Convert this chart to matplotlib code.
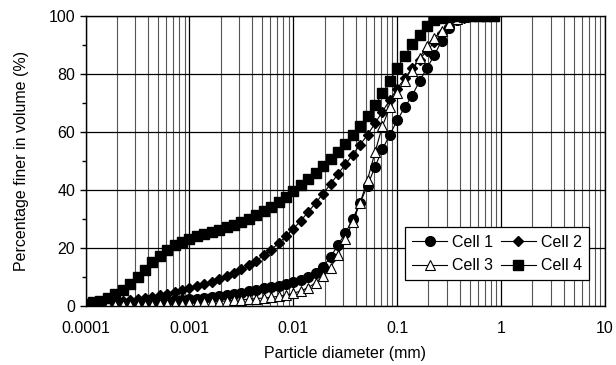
import matplotlib
matplotlib.use("Agg")
import matplotlib.pyplot as plt
from matplotlib.ticker import FixedLocator, FixedFormatter, LogLocator, NullFormatter

plt.rcParams['font.family'] = ['Liberation Sans', 'DejaVu Sans']

# particle size classes (mm)
diameter = [0.0001, 0.000118, 0.000139, 0.000164, 0.000193, 0.000228, 0.000268,
            0.000316, 0.000373, 0.000439, 0.000518, 0.000611, 0.00072, 0.000848,
            0.001, 0.00118, 0.00139, 0.00164, 0.00193, 0.00228, 0.00268,
            0.00316, 0.00373, 0.00439, 0.00518, 0.00611, 0.0072, 0.00848,
            0.01, 0.0118, 0.0139, 0.0164, 0.0193, 0.0228, 0.0268,
            0.0316, 0.0373, 0.0439, 0.0518, 0.0611, 0.072, 0.0848,
            0.1, 0.118, 0.139, 0.164, 0.193, 0.228, 0.268,
            0.316, 0.373, 0.439, 0.518, 0.611, 0.72, 0.848]

# cumulative percentage finer (%)
cell1 = [0.3, 0.4, 0.5, 0.6, 0.7, 0.8, 0.9, 1.0, 1.1, 1.3, 1.5, 1.7, 1.9, 2.1,
         2.3, 2.5, 2.8, 3.1, 3.4, 3.8, 4.2, 4.6, 5.0, 5.5, 6.0, 6.5, 7.0, 7.6,
         8.2, 9.0, 10.0, 11.5, 13.5, 16.8, 21.0, 25.0, 30.0, 35.5, 41.5, 48.0, 54.0, 59.0,
         64.0, 68.5, 72.5, 77.5, 82.0, 86.5, 91.5, 95.8, 98.5, 99.7, 100, 100, 100, 100]
cell2 = [0.5, 0.7, 0.9, 1.1, 1.4, 1.7, 2.0, 2.4, 2.8, 3.2, 3.7, 4.2, 4.8, 5.4,
         6.1, 6.8, 7.6, 8.4, 9.3, 10.3, 11.4, 12.6, 14.0, 15.6, 17.4, 19.4, 21.6, 24.0,
         26.6, 29.4, 32.4, 35.5, 38.7, 42.0, 45.4, 48.8, 52.2, 55.6, 59.0, 63.0, 67.0, 71.0,
         75.0, 78.5, 82.0, 85.0, 88.0, 91.0, 94.0, 96.6, 98.5, 99.5, 99.9, 100, 100, 100]
cell3 = [0.1, 0.1, 0.15, 0.2, 0.2, 0.25, 0.3, 0.35, 0.4, 0.45, 0.5, 0.6, 0.7, 0.8,
         0.9, 1.0, 1.2, 1.3, 1.5, 1.7, 1.9, 2.1, 2.3, 2.5, 2.7, 3.0, 3.3, 3.7,
         4.3, 5.2, 6.3, 8.0, 10.2, 13.2, 17.5, 23.0, 29.0, 35.5, 43.5, 53.0, 62.0, 68.5,
         73.5, 77.5, 81.0, 85.5, 89.5, 92.5, 95.0, 97.3, 99.0, 99.8, 100, 100, 100, 100]
cell4 = [0.8, 1.2, 1.8, 2.8, 4.0, 5.6, 7.6, 10.0, 12.5, 15.0, 17.3, 19.3, 20.9, 22.1,
         23.1, 24.0, 24.8, 25.6, 26.3, 27.1, 28.0, 29.0, 30.1, 31.3, 32.7, 34.2, 35.9, 37.7,
         39.6, 41.6, 43.8, 46.0, 48.3, 50.7, 53.2, 55.9, 58.8, 61.9, 65.4, 69.2, 73.3, 77.6,
         82.0, 86.3, 90.2, 93.5, 96.6, 98.5, 99.5, 99.8, 100, 100, 100, 100, 100, 100]

xtick_vals = [0.0001, 0.001, 0.01, 0.1, 1, 10]
xtick_labels = ['0.0001', '0.001', '0.01', '0.1', '1', '10']

fig = plt.figure(figsize=(6.16, 3.65), dpi=100)
ax = fig.add_axes([0.139, 0.162, 0.843, 0.794])

common = dict(color='black', linewidth=0.8, linestyle='-')
h1, = ax.plot(diameter, cell1, marker='o', markersize=7, markerfacecolor='black',
              markeredgecolor='black', label='Cell 1', **common)
h2, = ax.plot(diameter, cell2, marker='D', markersize=5.5, markerfacecolor='black',
              markeredgecolor='black', label='Cell 2', **common)
h3, = ax.plot(diameter, cell3, marker='^', markersize=7.5, markerfacecolor='white',
              markeredgecolor='black', markeredgewidth=0.8, label='Cell 3', **common)
h4, = ax.plot(diameter, cell4, marker='s', markersize=6.5, markerfacecolor='black',
              markeredgecolor='black', label='Cell 4', **common)

ax.set_xscale('log')
ax.set_xlim(0.0001, 10)
ax.set_ylim(0, 100)

ax.xaxis.set_major_locator(FixedLocator(xtick_vals))
ax.xaxis.set_major_formatter(FixedFormatter(xtick_labels))
ax.xaxis.set_minor_locator(LogLocator(base=10, subs=range(2, 10), numticks=20))
ax.xaxis.set_minor_formatter(NullFormatter())
ax.set_yticks([0, 20, 40, 60, 80, 100])
ax.set_yticks([10, 30, 50, 70, 90], minor=True)

ax.grid(True, which='major', axis='both', color='black', linewidth=0.9)
ax.grid(True, which='minor', axis='x', color='#555555', linewidth=0.8)
ax.set_axisbelow(True)

ax.tick_params(axis='x', which='both', length=0, labelsize=11.5, pad=11)
ax.tick_params(axis='y', which='major', direction='out', length=4, width=1, labelsize=11.5)
ax.tick_params(axis='y', which='minor', direction='out', length=3, width=1)
for s in ax.spines.values():
    s.set_color('black')
    s.set_linewidth(1)

ax.set_xlabel('Particle diameter (mm)', fontsize=11.5, labelpad=7)
ax.set_ylabel('Percentage finer in volume (%)', fontsize=11.5, labelpad=14)

# legend rows: Cell 1, Cell 2 / Cell 3, Cell 4
leg = ax.legend([h1, h3, h2, h4], ['Cell 1', 'Cell 3', 'Cell 2', 'Cell 4'],
                ncol=2, loc='lower right', bbox_to_anchor=(0.985, 0.06),
                fontsize=11.5, frameon=True, fancybox=False, edgecolor='black',
                framealpha=1, handlelength=2.2, columnspacing=0.5,
                handletextpad=0.3, borderpad=0.45, labelspacing=0.55)
leg.get_frame().set_linewidth(0.9)

fig.savefig('out.png', dpi=100)
